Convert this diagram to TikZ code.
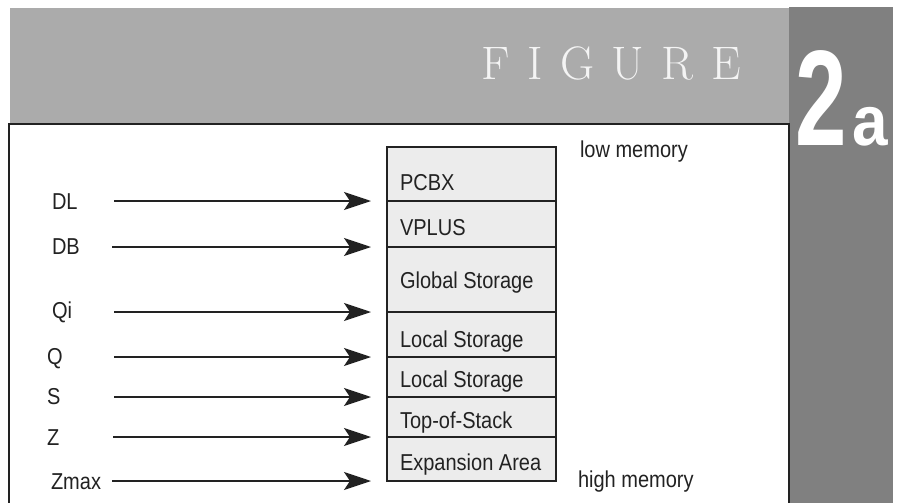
\documentclass[tikz,border=0pt]{standalone}
\usepackage{fontspec}
\usetikzlibrary{arrows.meta}
\newfontfamily\labfont[FakeStretch=0.87]{Liberation Sans}
\newfontfamily\numfont{Liberation Sans}
\definecolor{bandgray}{HTML}{ABABAB}
\definecolor{colgray}{HTML}{808080}
\definecolor{cellfill}{HTML}{ECECEC}
\definecolor{ink}{HTML}{222222}
\definecolor{figwhite}{HTML}{F4F4F4}
\begin{document}
\begin{tikzpicture}[x=1pt,y=-1pt,
  lab/.style={font={\labfont\fontsize{23}{25}\selectfont}, inner sep=0pt, outer sep=0pt, anchor=base west, text=ink},
  cell/.style={draw=ink, line width=1.4pt, fill=cellfill, minimum width=169pt, anchor=north west, inner sep=0pt, outer sep=0pt},
  ptr/.style={draw=ink, line width=1.6pt, -{Stealth[length=27pt,width=18pt,inset=6pt]}},
  frameline/.style={draw=ink, line width=1.5pt}]
\useasboundingbox (0,0) rectangle (899,503);
\fill[white] (0,0) rectangle (899,503);
% header band and side column
\fill[bandgray] (10,8) rectangle (789,124);
\fill[colgray] (789,7) rectangle (893,503);
\draw[frameline] (9,503) -- (9,124) -- (789,124) -- (789,503);
% title
\node[anchor=base west, inner sep=0pt, text=figwhite, font={\fontsize{47}{50}\selectfont}] (fig) at (481,80)
  {F\hspace{17.6pt}I\hspace{17.6pt}G\hspace{17.6pt}U\hspace{17.6pt}R\hspace{17.6pt}E};
\node[anchor=base west, inner sep=0pt, text=white, font={\numfont\bfseries\fontsize{136}{136}\selectfont}] (two) at (795,145) {\scalebox{0.68}[1]{2}};
\node[anchor=base west, inner sep=0pt, text=white, font={\numfont\bfseries\fontsize{71}{71}\selectfont}] (suba) at (852,145) {\scalebox{0.9}[1]{a}};
% memory cells
\node[cell, minimum height=54pt] (pcbx) at (387,147) {};
\node[cell, minimum height=46pt] (vplus) at (pcbx.south west) {};
\node[cell, minimum height=65pt] (global) at (vplus.south west) {};
\node[cell, minimum height=45pt] (localA) at (global.south west) {};
\node[cell, minimum height=40pt] (localB) at (localA.south west) {};
\node[cell, minimum height=40pt] (tos) at (localB.south west) {};
\node[cell, minimum height=44pt] (expa) at (tos.south west) {};
% cell texts
\node[lab] (tpcbx) at (400,190) {PCBX};
\node[lab] (tvplus) at (400,235) {VPLUS};
\node[lab] (tglobal) at (400,288) {Global Storage};
\node[lab] (tlocalA) at (400,347) {Local Storage};
\node[lab] (tlocalB) at (400,387) {Local Storage};
\node[lab] (ttos) at (400,428) {Top-of-Stack};
\node[lab] (texpa) at (400,470) {Expansion Area};
% right labels
\node[lab] (low) at (580,157) {low memory};
\node[lab] (high) at (578,487) {high memory};
% left labels
\node[lab] (DL) at (52,209) {DL};
\node[lab] (DB) at (52,254) {DB};
\node[lab] (Qi) at (52,318) {Qi};
\node[lab] (Q) at (47,364) {Q};
\node[lab] (S) at (47,404) {S};
\node[lab] (Z) at (47,445) {Z};
\node[lab] (Zmax) at (51,489) {Zmax};
% arrow starts
\coordinate (sDL) at (114,201);
\coordinate (sDB) at (112,247);
\coordinate (sQi) at (114,312);
\coordinate (sQ) at (114,357);
\coordinate (sS) at (114,397);
\coordinate (sZ) at (113,437);
\coordinate (sZmax) at (112,481);
\draw[ptr] (sDL) -- ([xshift=-16pt]pcbx.south west);
\draw[ptr] (sDB) -- ([xshift=-16pt]vplus.south west);
\draw[ptr] (sQi) -- ([xshift=-16pt]global.south west);
\draw[ptr] (sQ) -- ([xshift=-16pt]localA.south west);
\draw[ptr] (sS) -- ([xshift=-16pt]localB.south west);
\draw[ptr] (sZ) -- ([xshift=-16pt]tos.south west);
\draw[ptr] (sZmax) -- ([xshift=-16pt]expa.south west);
\end{tikzpicture}
\end{document}
